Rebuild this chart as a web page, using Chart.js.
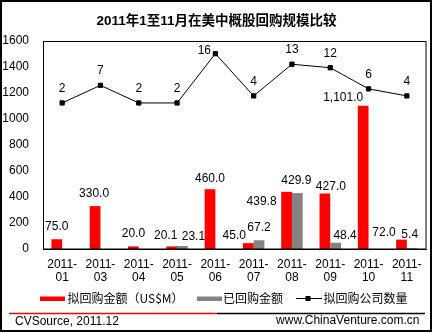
<!DOCTYPE html>
<html><head><meta charset="utf-8">
<script src="https://cdn.jsdelivr.net/npm/chart.js@4"></script>
<style>html,body{margin:0;padding:0;background:#fff}#wrap{width:433px;height:333px;position:relative}</style>
</head><body><div id="wrap"><canvas id="c" width="433" height="333"></canvas></div>
<script>
const categories = ["2011-01","2011-03","2011-04","2011-05","2011-06","2011-07","2011-08","2011-09","2011-10","2011-11"];
const plannedAmount = [75.0, 330.0, 20.0, 20.1, 460.0, 45.0, 439.8, 427.0, 1101.0, 72.0];
const repurchasedAmount = [null, null, null, 23.1, null, 67.2, 429.9, 48.4, null, 5.4];
const companyCount = [2, 7, 2, 2, 16, 4, 13, 12, 6, 4];
const yTicks = [0, 200, 400, 600, 800, 1000, 1200, 1400, 1600];
const seriesNames = ["拟回购金额（US$M）", "已回购金额", "拟回购公司数量"];
const titleText = "2011年1至11月在美中概股回购规模比较";
const sourceText = "CVSource, 2011.12";
const siteText = "www.ChinaVenture.com.cn";

// label nudges (style only)
const plannedNudge = [[0,0],[-1,0],[0,0],[-6,1.5],[0,1.5],[-14,5.5],[-25,22.5],[6,6],[-20,4],[-17.5,6]];
const repurchasedNudge = [[0,0],[0,0],[0,0],[11,3],[0,0],[0,-0.5],[-1,0],[9.5,5],[0,0],[-2.5,-0.8]];
const countNudge = [[0,0],[0,0],[0,0],[0,0],[-11,11.5],[0,0],[0,0],[0,0],[0,0],[0,0]];

const FONT = '"Liberation Sans", Arial, "Noto Sans CJK SC", sans-serif';
const CJK = '"Noto Sans CJK SC", "Liberation Sans", sans-serif';

function grayPattern(){
  const p = document.createElement('canvas'); p.width = 2; p.height = 2;
  const g = p.getContext('2d');
  g.fillStyle = '#7a7a7a'; g.fillRect(0,0,2,2);
  g.fillStyle = '#8e8e8e'; g.fillRect(0,0,1,1); g.fillRect(1,1,1,1);
  return g.createPattern(p, 'repeat');
}
const gray = grayPattern();

const fmt1 = v => v.toLocaleString('en-US',{minimumFractionDigits:1,maximumFractionDigits:1});

const decor = {
  id:'decor',
  beforeDraw(chart){
    const c = chart.ctx; c.save(); c.fillStyle='#fff'; c.fillRect(0,0,chart.width,chart.height); c.restore();
  },
  afterDatasetsDraw(chart){
    const c = chart.ctx; c.save();
    c.font = '12px ' + FONT; c.fillStyle = '#000'; c.textAlign='center'; c.textBaseline='middle';
    const m0 = chart.getDatasetMeta(1), m1 = chart.getDatasetMeta(2), m2 = chart.getDatasetMeta(0);
    plannedAmount.forEach((v,i)=>{ if(v==null) return; const e=m0.data[i];
      c.fillText(fmt1(v), e.x+plannedNudge[i][0], e.y-12.5+plannedNudge[i][1]); });
    repurchasedAmount.forEach((v,i)=>{ if(v==null) return; const e=m1.data[i];
      c.fillText(fmt1(v), e.x+repurchasedNudge[i][0], e.y-12.5+repurchasedNudge[i][1]); });
    companyCount.forEach((v,i)=>{ const e=m2.data[i];
      c.fillText(String(v), e.x+countNudge[i][0], e.y-14.5+countNudge[i][1]); });
    c.restore();
  },
  afterDraw(chart){
    const c = chart.ctx, a = chart.chartArea; c.save();
    c.strokeStyle='#000'; c.lineWidth=1;
    c.strokeRect(Math.round(a.left)+0.5, Math.round(a.top)+0.5, Math.round(a.right-a.left)-0.5, Math.round(a.bottom-a.top)-0.5);
    c.lineWidth=2; c.strokeRect(1,1,chart.width-3,chart.height-3);
    c.fillStyle='#000'; c.textAlign='center'; c.textBaseline='middle';
    c.font='bold 13.5px ' + FONT; c.fillText(titleText, 216.5, 21);
    const ly = 298.5;
    c.fillStyle='#ff0000'; c.fillRect(40,296.5,25,4.5);
    c.fillStyle=gray; c.fillRect(197,296.5,25,4.5);
    c.strokeStyle='#000'; c.lineWidth=1; c.beginPath(); c.moveTo(296,ly); c.lineTo(322,ly); c.stroke();
    c.fillStyle='#000'; c.fillRect(305.5,296,5,5);
    c.textAlign='left'; c.font='12px ' + CJK; c.fillStyle='#000';
    c.fillText(seriesNames[0], 67.5, ly);
    c.fillText(seriesNames[1], 223, ly);
    c.fillText(seriesNames[2], 323.5, ly);
    c.lineWidth=1.5;
    c.strokeStyle='#ff0000'; c.beginPath(); c.moveTo(9,313.5); c.lineTo(217,313.5); c.stroke();
    c.strokeStyle='#000'; c.beginPath(); c.moveTo(217,313.5); c.lineTo(425,313.5); c.stroke();
    c.font='12px ' + FONT; c.fillStyle='#000';
    c.textAlign='left'; c.fillText(sourceText, 15, 321.5);
    c.textAlign='right'; c.fillText(siteText, 419.5, 321);
    c.restore();
  }
};

new Chart(document.getElementById('c'), {
  data: {
    labels: categories.map(s => { const p = s.split('-'); return [p[0] + '-', p[1]]; }),
    datasets: [
      { type:'line', label:seriesNames[2], data:companyCount, yAxisID:'y2', order:0,
        borderColor:'#000', borderWidth:1, pointStyle:'rect', pointRadius:3, pointBorderWidth:1,
        pointBackgroundColor:'#000', pointBorderColor:'#000', tension:0, fill:false },
      { type:'bar', label:seriesNames[0], data:plannedAmount, yAxisID:'y', order:1,
        backgroundColor:'#ff0000', borderWidth:0, categoryPercentage:0.56, barPercentage:1 },
      { type:'bar', label:seriesNames[1], data:repurchasedAmount, yAxisID:'y', order:1,
        backgroundColor:gray, borderWidth:0, categoryPercentage:0.56, barPercentage:1 }
    ]
  },
  options: {
    responsive:false, animation:false, devicePixelRatio:1,
    layout:{padding:{top:41,right:7,left:0,bottom:0}},
    plugins:{legend:{display:false}, title:{display:false}, tooltip:{enabled:false}},
    scales:{
      x:{ grid:{display:false, drawTicks:false}, border:{color:'#000', width:1},
          ticks:{font:{family:FONT, size:12, lineHeight:1.08}, color:'#000', padding:9, maxRotation:0, autoSkip:false},
          afterFit(s){ s.height = 84; } },
      y:{ min:0, max:1600, position:'left',
          afterBuildTicks(s){ s.ticks = yTicks.map(v => ({value:v})); },
          grid:{display:false, drawTicks:false}, border:{color:'#000', width:1},
          ticks:{font:{family:FONT, size:12}, color:'#000', padding:14, callback:v => String(v)},
          afterFit(s){ s.width = 43; } },
      y2:{ display:false, min:-39.5, max:19.6 }
    }
  },
  plugins:[decor]
});
</script>
</body></html>
